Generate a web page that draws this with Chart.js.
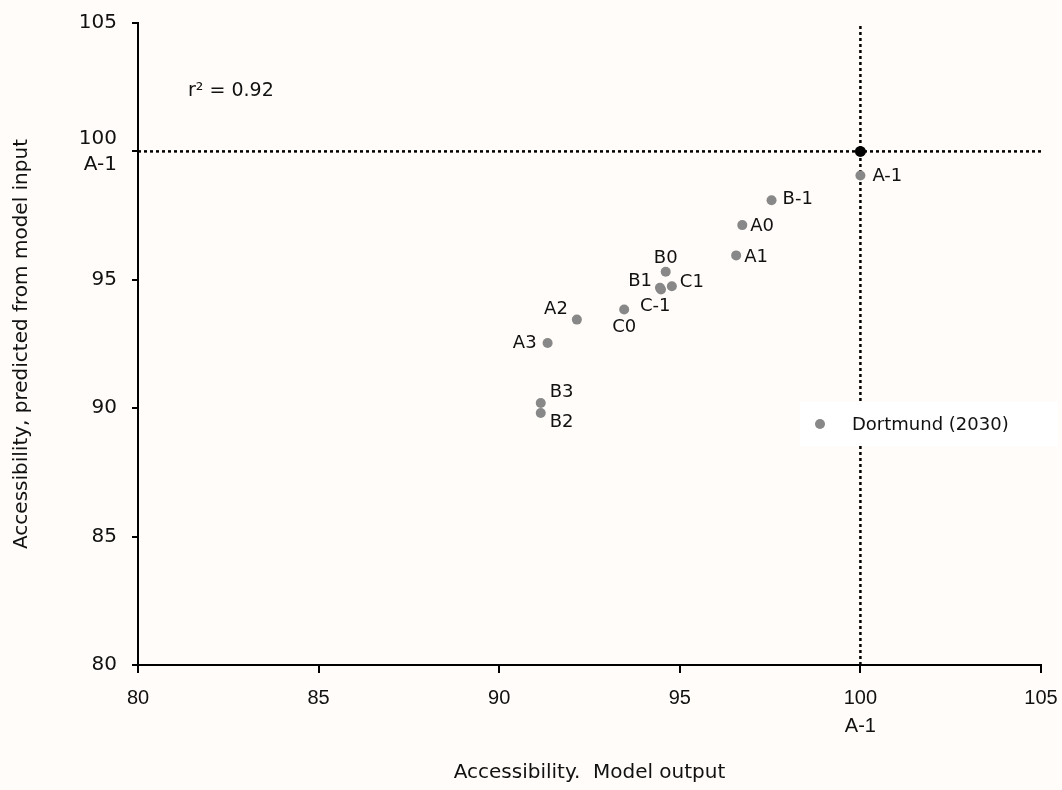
<!DOCTYPE html>
<html><head><meta charset="utf-8">
<script src="https://cdn.jsdelivr.net/npm/chart.js@4.4.1/dist/chart.umd.min.js"></script>
<style>html,body{margin:0;padding:0;background:#fffcf9;} canvas{display:block;}</style>
</head><body>
<canvas id="c" width="1062" height="790"></canvas>
<script>
// ---- data ----
const pointNames  = ['A-1', 'B-1', 'A0', 'A1', 'B0', 'B1', 'C-1', 'C1', 'C0', 'A2', 'A3', 'B3', 'B2'];
const modelOutput = [100.0, 97.54, 96.73, 96.56, 94.61, 94.45, 94.48, 94.78, 93.46, 92.15, 91.34, 91.15, 91.15];
const predicted   = [99.06, 98.10, 97.13, 95.95, 95.31, 94.69, 94.62, 94.75, 93.84, 93.45, 92.54, 90.20, 89.81];
const referenceX = [100];
const referenceY = [100];
const axisTicks = [80, 85, 90, 95, 100, 105];
const tickExtraLabel = {100: 'A-1'};
const rSquaredText = 'r\u00B2 = 0.92';
const legendLabel = 'Dortmund (2030)';
const xTitle = 'Accessibility.  Model output';
const yTitle = 'Accessibility, predicted from model input';

// ---- label placement (style only: pixel offsets from each point) ----
const labelPlacement = {
  'A-1': [12, 1, 'left'], 'B-1': [11, -1, 'left'], 'A0': [8, 1, 'left'], 'A1': [8, 2, 'left'],
  'B0': [0, -14, 'center'], 'B1': [-8, -6, 'right'], 'C1': [8, -4, 'left'], 'C-1': [-21, 17, 'left'],
  'C0': [0, 18, 'center'], 'A2': [-9, -10, 'right'], 'A3': [-11, 0, 'right'],
  'B3': [9, -11, 'left'], 'B2': [9, 9, 'left']
};

const BG = '#fffcf9';
const GREY = '#888888';
const TXT = '#111111';
const FONT = '"DejaVu Sans", sans-serif';

const bgPlugin = {
  id: 'bg',
  beforeDraw(chart) {
    const {ctx, width, height} = chart;
    ctx.save(); ctx.fillStyle = BG; ctx.fillRect(0, 0, width, height); ctx.restore();
  }
};

const annotPlugin = {
  id: 'annot',
  afterDatasetsDraw(chart) {
    const ctx = chart.ctx;
    const ca = chart.chartArea;
    const meta = chart.getDatasetMeta(0);
    ctx.save();
    // legend box
    ctx.fillStyle = '#ffffff';
    ctx.fillRect(800, 402, 258, 44);
    ctx.beginPath(); ctx.arc(820, 424, 5, 0, Math.PI * 2); ctx.fillStyle = GREY; ctx.fill();
    ctx.fillStyle = TXT; ctx.font = '18px ' + FONT; ctx.textBaseline = 'middle'; ctx.textAlign = 'left';
    ctx.fillText(legendLabel, 852, 425);
    // point labels
    meta.data.forEach((el, i) => {
      const p = labelPlacement[pointNames[i]];
      ctx.textAlign = p[2];
      ctx.fillText(pointNames[i], el.x + p[0], el.y + p[1]);
    });
    // r squared
    ctx.font = '19px ' + FONT; ctx.textAlign = 'left';
    ctx.fillText(rSquaredText, ca.left + 50, ca.top + 68);
    ctx.restore();
  }
};

const tickCb = (v) => tickExtraLabel[v] ? [String(v), tickExtraLabel[v]] : String(v);
const zeroPad = (s) => { s.paddingTop = 0; s.paddingBottom = 0; s.paddingLeft = 0; s.paddingRight = 0; };

new Chart(document.getElementById('c'), {
  type: 'scatter',
  data: {
    datasets: [
      {
        label: legendLabel,
        data: modelOutput.map((x, i) => ({x, y: predicted[i]})),
        pointRadius: 5, pointHoverRadius: 5,
        backgroundColor: GREY, borderColor: GREY, borderWidth: 0,
        order: 0
      },
      {
        label: 'reference',
        data: referenceX.map((x, i) => ({x, y: referenceY[i]})),
        pointRadius: 5.5, backgroundColor: '#000', borderColor: '#000', borderWidth: 0,
        order: 1
      },
      {
        label: 'h-ref',
        data: [{x: axisTicks[0], y: referenceY[0]}, {x: axisTicks[axisTicks.length - 1], y: referenceY[0]}],
        showLine: true, pointRadius: 0, borderColor: '#000', borderWidth: 2.5, borderDash: [3, 3],
        order: 2
      },
      {
        label: 'v-ref',
        data: [{x: referenceX[0], y: axisTicks[0]}, {x: referenceX[0], y: axisTicks[axisTicks.length - 1]}],
        showLine: true, pointRadius: 0, borderColor: '#000', borderWidth: 2.5, borderDash: [3, 3],
        order: 3
      }
    ]
  },
  options: {
    responsive: false,
    animation: false,
    events: [],
    layout: {padding: {top: 23, right: 21, bottom: 0, left: 0}},
    plugins: {legend: {display: false}, tooltip: {enabled: false}},
    scales: {
      x: {
        type: 'linear', min: axisTicks[0], max: axisTicks[axisTicks.length - 1],
        afterBuildTicks: (s) => { s.ticks = axisTicks.map(v => ({value: v})); },
        afterFit: (s) => { s.height = 125; zeroPad(s); },
        border: {display: true, color: '#000', width: 2},
        grid: {drawOnChartArea: false, drawTicks: true, tickLength: 8, color: '#000', lineWidth: 2},
        ticks: {callback: tickCb, padding: 11, color: TXT,
          font: {family: '"Liberation Sans", Arial, sans-serif', size: 20, lineHeight: 1.4},
          maxRotation: 0, autoSkip: false},
        title: {display: true, text: xTitle, color: TXT, font: {family: FONT, size: 20, lineHeight: 1.2},
          padding: {top: 0, bottom: 5}}
      },
      y: {
        type: 'linear', min: axisTicks[0], max: axisTicks[axisTicks.length - 1],
        afterBuildTicks: (s) => { s.ticks = axisTicks.map(v => ({value: v})); },
        afterFit: (s) => { s.width = 138; zeroPad(s); },
        border: {display: true, color: '#000', width: 2},
        grid: {drawOnChartArea: false, drawTicks: true, tickLength: 6, color: '#000', lineWidth: 2},
        ticks: {callback: tickCb, padding: 15, color: TXT,
          font: {family: FONT, size: 20, lineHeight: 1.3}, autoSkip: false},
        title: {display: true, text: yTitle, color: TXT, font: {family: FONT, size: 20, lineHeight: 1.2},
          padding: {top: 10, bottom: 0}}
      }
    }
  },
  plugins: [bgPlugin, annotPlugin]
});
</script>
</body></html>
